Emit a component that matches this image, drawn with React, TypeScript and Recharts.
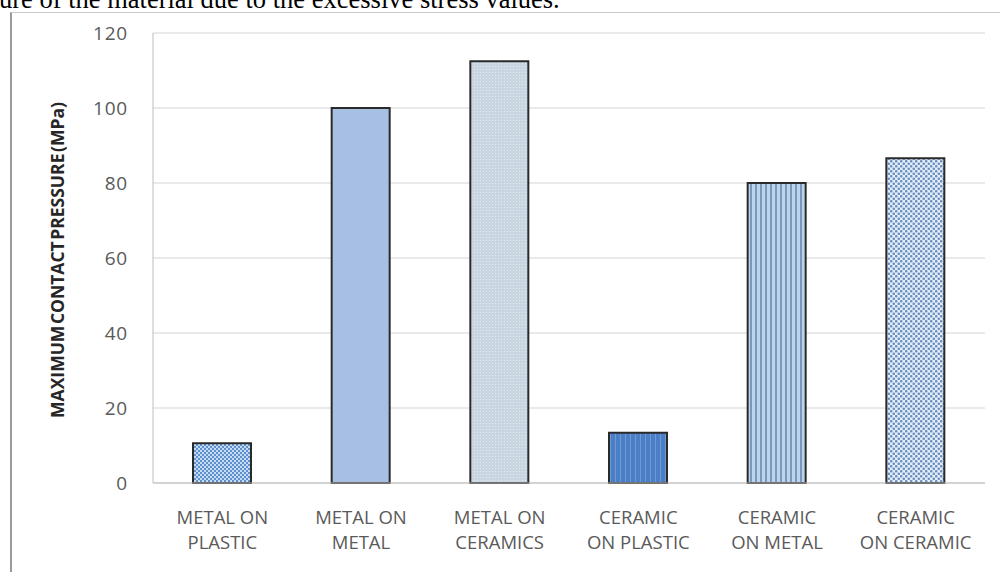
import { BarChart, Bar, XAxis, YAxis, CartesianGrid, Cell } from 'recharts'

// ─── Data ─────────────────────────────────────────────────────────────────────

const CATEGORIES = [
  ['METAL ON', 'PLASTIC'],
  ['METAL ON', 'METAL'],
  ['METAL ON', 'CERAMICS'],
  ['CERAMIC', 'ON PLASTIC'],
  ['CERAMIC', 'ON METAL'],
  ['CERAMIC', 'ON CERAMIC'],
]
const PRESSURE = [10.6, 100, 112.5, 13.4, 80, 86.6]
const Y_TICKS = [0, 20, 40, 60, 80, 100, 120]
const FILLS = ['url(#pMop)', '#a6bfe2', 'url(#pMoc)', 'url(#pCop)', 'url(#pCom)', 'url(#pCoc)']

const data = CATEGORIES.map((lines, i) => ({ name: lines.join(' '), lines, value: PRESSURE[i] }))

const FONT = '"Open Sans", "Liberation Sans", sans-serif'
const TICK_COLOR = '#5a5a5a'

// ─── Ticks ────────────────────────────────────────────────────────────────────

// two-line category label under each bar
// eslint-disable-next-line @typescript-eslint/no-explicit-any
function CategoryTick({ x, y, index }: any) {
  const lines = CATEGORIES[index] ?? []
  return (
    <text x={x} y={y} textAnchor="middle" fill={TICK_COLOR} fontSize={18.5} fontFamily={FONT}>
      {lines.map((l, i) => (
        <tspan key={i} x={x} dy={i === 0 ? 33 : 25}>{l}</tspan>
      ))}
    </text>
  )
}

// ─── Component ────────────────────────────────────────────────────────────────

export default function App() {
  return (
    <div style={{ position: 'absolute', left: 0, top: 0, width: 1000, height: 572, background: '#fff', overflow: 'hidden' }}>
      {/* running text above the figure */}
      <div style={{
        position: 'absolute', left: -1, top: -14, fontFamily: '"Liberation Serif", serif',
        fontSize: 26.5, color: '#000', whiteSpace: 'nowrap', lineHeight: '26.5px',
      }}>
        ure of the material due to the excessive stress values.
      </div>

      {/* figure frame */}
      <div style={{ position: 'absolute', left: 10, top: 12, width: 995, height: 570, borderTop: '1px solid #c8c8c8', borderLeft: '2px solid #9a9a9a' }} />

      <div style={{
        position: 'absolute', left: 57, top: 260, transform: 'translate(-50%, -50%) rotate(-90deg)',
        fontFamily: FONT, fontWeight: 700, fontSize: 17.5, color: '#262626', whiteSpace: 'nowrap',
        wordSpacing: -3,
      }}>
        MAXIMUM CONTACT PRESSURE (MPa)
      </div>

      <div style={{ position: 'absolute', left: 0, top: 0 }}>
        <BarChart width={1000} height={572} data={data} margin={{ top: 33, right: 15, bottom: 59, left: 93 }}>
          <defs>
            <pattern id="pMop" width="4" height="4" patternUnits="userSpaceOnUse">
              <rect width="4" height="4" fill="#c4dcf4" />
              <rect width="2" height="2" fill="#5f8fcb" />
              <rect x="2" y="2" width="2" height="2" fill="#5f8fcb" />
            </pattern>
            <pattern id="pMoc" width="3" height="3" patternUnits="userSpaceOnUse">
              <rect width="3" height="3" fill="#c9d6e1" />
              <rect width="1" height="1" fill="#e3eaf1" />
            </pattern>
            <pattern id="pCop" width="5" height="5" patternUnits="userSpaceOnUse">
              <rect width="5" height="5" fill="#4b7ec4" />
              <rect width="1" height="5" fill="#6d9bd8" />
            </pattern>
            <pattern id="pCom" width="5" height="5" patternUnits="userSpaceOnUse">
              <rect width="5" height="5" fill="#bcd5ef" />
              <rect width="2" height="5" fill="#7e98b8" />
            </pattern>
            <pattern id="pCoc" width="5" height="5" patternUnits="userSpaceOnUse">
              <rect width="5" height="5" fill="#e4eef9" />
              <circle cx="1.25" cy="1.25" r="1.3" fill="#6a8fc0" />
              <circle cx="3.75" cy="3.75" r="1.3" fill="#6a8fc0" />
            </pattern>
          </defs>
          <CartesianGrid stroke="#d4d4d4" vertical={false} />
          <XAxis
            dataKey="name"
            tick={<CategoryTick />}
            tickLine={false}
            axisLine={{ stroke: '#bdbdbd' }}
            interval={0}
          />
          <YAxis
            domain={[0, 120]}
            ticks={Y_TICKS}
            width={60}
            tickLine={false}
            tickSize={0}
            tickMargin={25}
            axisLine={{ stroke: '#bdbdbd' }}
            tick={{ fill: TICK_COLOR, fontSize: 19, fontFamily: FONT, letterSpacing: 0.8 }}
          />
          <Bar dataKey="value" barSize={58} stroke="#2a2a2a" strokeWidth={2} isAnimationActive={false}>
            {data.map((d, i) => <Cell key={d.name} fill={FILLS[i]} />)}
          </Bar>
        </BarChart>
      </div>
    </div>
  )
}
